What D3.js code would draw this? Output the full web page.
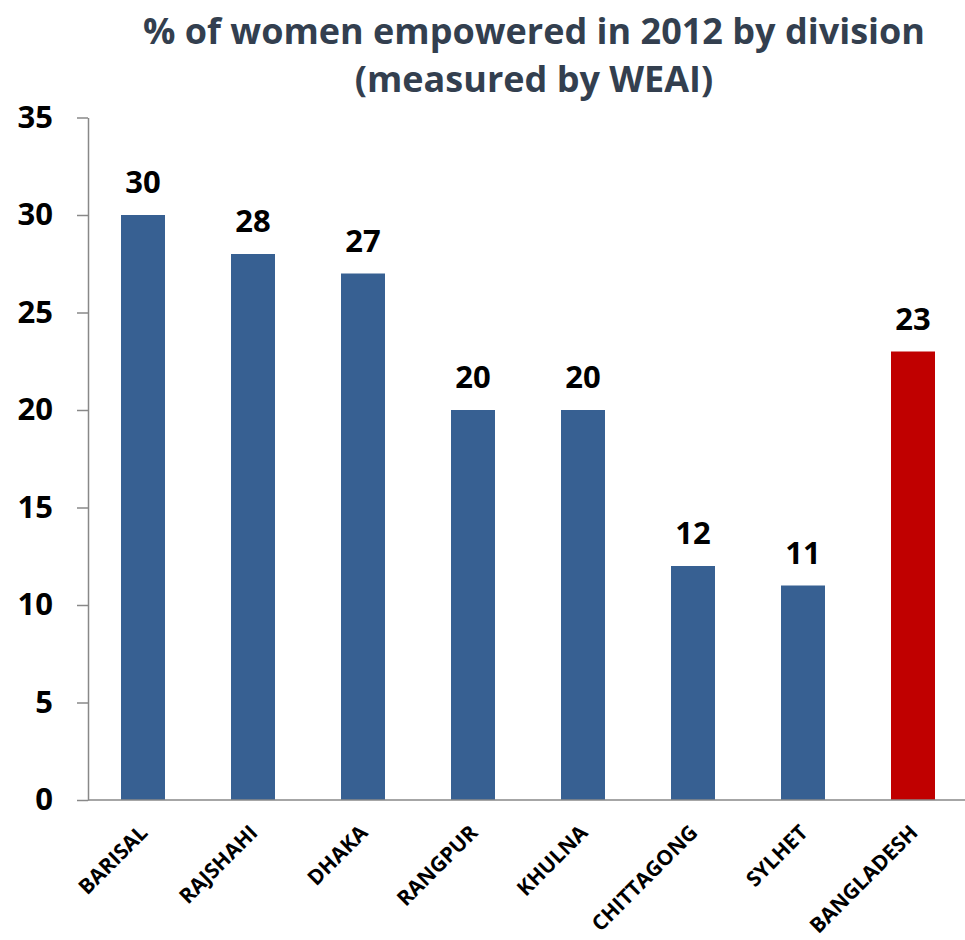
<!DOCTYPE html>
<html>
<head>
<meta charset="utf-8">
<script src="https://cdn.jsdelivr.net/npm/d3@7"></script>
<style>
  body { margin: 0; background: #fff; }
  svg text { font-family: "Open Sans", "Noto Sans", sans-serif; font-weight: bold; }
</style>
</head>
<body>
<svg id="canvas" width="965" height="940"></svg>
<script>
var divisions = ["BARISAL", "RAJSHAHI", "DHAKA", "RANGPUR", "KHULNA", "CHITTAGONG", "SYLHET", "BANGLADESH"];
var empowered = [30, 28, 27, 20, 20, 12, 11, 23];
var yTicks = [0, 5, 10, 15, 20, 25, 30, 35];
var titleLines = ["% of women empowered in 2012 by division", "(measured by WEAI)"];

var svg = d3.select("#canvas"),
    plotLeft = 88,
    plotRight = 968,
    plotTop = 117.5,
    plotBottom = 800;

var x = d3.scaleBand()
  .domain(divisions)
  .range([plotLeft, plotRight])
  .paddingInner(0.6)
  .paddingOuter(0.3);

var y = d3.scaleLinear()
  .domain([0, 35])
  .range([plotBottom, plotTop]);

// title
svg.append("g")
  .selectAll("text")
  .data(titleLines)
  .enter()
  .append("text")
  .attr("x", 534)
  .attr("y", function(d, i) { return 44 + i * 48; })
  .attr("text-anchor", "middle")
  .style("font-size", "36px")
  .style("fill", "#333f4f")
  .text(function(d) { return d; });

// y axis
var yAxis = svg.append("g")
  .attr("transform", "translate(" + plotLeft + ",0)")
  .call(d3.axisLeft(y).tickValues(yTicks).tickSize(11).tickSizeOuter(0).tickPadding(24));

yAxis.select(".domain").attr("stroke", "#888").attr("stroke-width", 1.5);
yAxis.selectAll(".tick line").attr("stroke", "#888").attr("stroke-width", 1.5);
yAxis.selectAll(".tick text")
  .style("font-size", "31px")
  .style("fill", "#000");

// bars
svg.append("g")
  .selectAll("rect")
  .data(divisions)
  .enter()
  .append("rect")
  .attr("x", function(d) { return x(d); })
  .attr("y", function(d, i) { return y(empowered[i]); })
  .attr("width", x.bandwidth())
  .attr("height", function(d, i) { return plotBottom - y(empowered[i]); })
  .attr("fill", function(d) { return d === "BANGLADESH" ? "#c00000" : "#376092"; });

// value labels
svg.append("g")
  .selectAll("text")
  .data(divisions)
  .enter()
  .append("text")
  .attr("x", function(d) { return x(d) + x.bandwidth() / 2; })
  .attr("y", function(d, i) { return y(empowered[i]) - 22; })
  .attr("text-anchor", "middle")
  .style("font-size", "31px")
  .style("fill", "#000")
  .text(function(d, i) { return empowered[i]; });

// x axis
var xAxis = svg.append("g")
  .attr("transform", "translate(0," + plotBottom + ")")
  .call(d3.axisBottom(x).tickSize(0).tickSizeOuter(0).tickPadding(0));

xAxis.select(".domain")
  .attr("d", "M" + plotLeft + ",0H" + 965)
  .attr("stroke", "#888")
  .attr("stroke-width", 1.5);

xAxis.selectAll(".tick text")
  .attr("text-anchor", "end")
  .attr("dy", null)
  .attr("transform", "translate(6,34) rotate(-45)")
  .style("font-size", "21px")
  .style("fill", "#000");
</script>
</body>
</html>
